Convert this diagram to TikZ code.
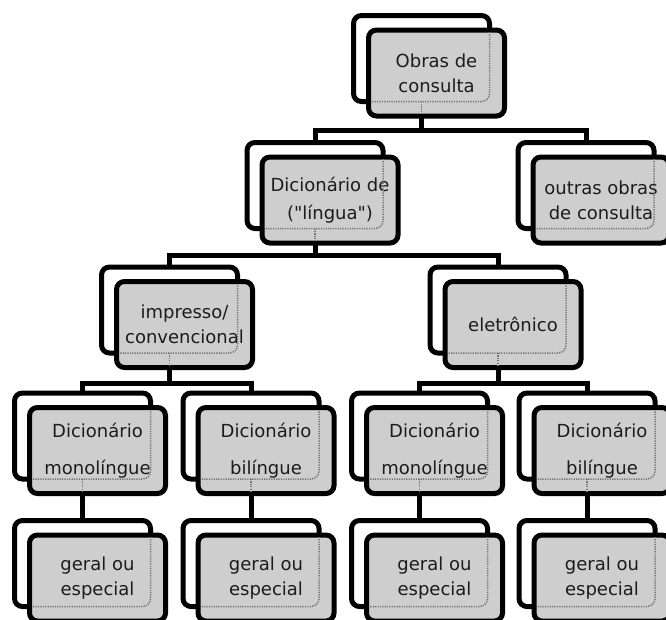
\documentclass[tikz,border=0pt]{standalone}
\usepackage{fontspec}
\setmainfont{DejaVu Sans}[Ligatures=TeXOff]
\usetikzlibrary{backgrounds,calc}
\definecolor{boxgray}{RGB}{206,206,206}
\definecolor{dotgray}{RGB}{115,115,115}
\definecolor{txt}{RGB}{28,28,28}
\begin{document}
\begin{tikzpicture}[x=1pt,y=-1pt,
  backframe/.style={draw=black, line width=5pt, rounded corners=8pt, fill=white,
    minimum width=136pt, minimum height=86pt, inner sep=0pt, outer sep=0pt},
  frontbox/.style={backframe, fill=boxgray, text=txt, align=center,
    font=\fontsize{18}{25}\selectfont},
  conn/.style={draw=black, line width=5pt},
  seethru/.style={draw=dotgray, line width=1.5pt, dash pattern=on 1.2pt off 1.2pt},
]
\useasboundingbox (0,0) rectangle (666,619);
\clip (0,0) rectangle (666,619);

% back frames
\node[backframe] (b0)  at (421.5,58.5) {};
\node[backframe] (b1)  at (315,185.5) {};
\node[backframe] (b1r) at (586,185.5) {};
\node[backframe] (b2a) at (169.5,310) {};
\node[backframe] (b2b) at (498,310) {};
\node[backframe] (b3a) at (82.5,436) {};
\node[backframe] (b3b) at (251,436) {};
\node[backframe] (b3c) at (419.5,436) {};
\node[backframe] (b3d) at (587,436) {};
\node[backframe] (b4a) at (82.5,563.5) {};
\node[backframe] (b4b) at (251,563.5) {};
\node[backframe] (b4c) at (419.5,563.5) {};
\node[backframe] (b4d) at (587,563.5) {};

% front boxes with the labels
\node[frontbox] (f0)  at ([shift={(15,14.5)}]b0.center)  {Obras de\\consulta};
\node[frontbox] (f1)  at ([shift={(15,14.5)}]b1.center)  {Dicionário de\\[3pt]("língua")};
\node[frontbox] (f1r) at ([shift={(15,14.5)}]b1r.center) {outras obras\\de consulta};
\node[frontbox] (f2a) at ([shift={(15,14.5)}]b2a.center) {impresso/\\convencional};
\node[frontbox] (f2b) at ([shift={(15,14.5)}]b2b.center) {eletrônico};
\node[frontbox] (f3a) at ([shift={(15,14.5)}]b3a.center) {Dicionário\\[12pt]monolíngue};
\node[frontbox] (f3b) at ([shift={(15,14.5)}]b3b.center) {Dicionário\\[12pt]bilíngue};
\node[frontbox] (f3c) at ([shift={(15,14.5)}]b3c.center) {Dicionário\\[12pt]monolíngue};
\node[frontbox] (f3d) at ([shift={(15,14.5)}]b3d.center) {Dicionário\\[12pt]bilíngue};
\node[frontbox] (f4a) at ([shift={(15,14.5)}]b4a.center) {geral ou\\especial};
\node[frontbox] (f4b) at ([shift={(15,14.5)}]b4b.center) {geral ou\\especial};
\node[frontbox] (f4c) at ([shift={(15,14.5)}]b4c.center) {geral ou\\especial};
\node[frontbox] (f4d) at ([shift={(15,14.5)}]b4d.center) {geral ou\\especial};

% tree connectors, behind the boxes
\begin{scope}[on background layer]
  \coordinate (j1) at (0,130);
  \coordinate (j2) at (0,255);
  \coordinate (j3) at (0,383);
  \draw[conn] (b0.south) -- (b0.south |- j1);
  \draw[conn] (b1.north) -- (b1.north |- j1) -- (b1r.north |- j1) -- (b1r.north);
  \draw[conn] (b1.south) -- (b1.south |- j2);
  \draw[conn] (b2a.north) -- (b2a.north |- j2) -- (b2b.north |- j2) -- (b2b.north);
  \draw[conn] (b2a.south) -- (b2a.south |- j3);
  \draw[conn] (b3a.north) -- (b3a.north |- j3) -- (b3b.north |- j3) -- (b3b.north);
  \draw[conn] (b2b.south) -- (b2b.south |- j3);
  \draw[conn] (b3c.north) -- (b3c.north |- j3) -- (b3d.north |- j3) -- (b3d.north);
  \draw[conn] (b3a.south) -- (b4a.north);
  \draw[conn] (b3b.south) -- (b4b.north);
  \draw[conn] (b3c.south) -- (b4c.north);
  \draw[conn] (b3d.south) -- (b4d.north);
\end{scope}

% back frame outlines showing through the front boxes
\foreach \n in {0,1,1r,2a,2b,3a,3b,3c,3d,4a,4b,4c,4d}{
  \begin{scope}
    \clip ($(f\n.south west)+(2.5pt,2.5pt)$) rectangle ($(f\n.north east)-(2.5pt,2.5pt)$);
    \draw[seethru, rounded corners=8pt] (b\n.south west) rectangle (b\n.north east);
  \end{scope}
}
% connector stubs showing through the front boxes
\foreach \n in {0,1,2a,2b,3a,3b,3c,3d}{
  \begin{scope}
    \clip ($(f\n.south west)+(2.5pt,2.5pt)$) rectangle ($(f\n.north east)-(2.5pt,2.5pt)$);
    \draw[seethru] (b\n.south) -- (b\n.south |- f\n.south);
  \end{scope}
}
\end{tikzpicture}
\end{document}
